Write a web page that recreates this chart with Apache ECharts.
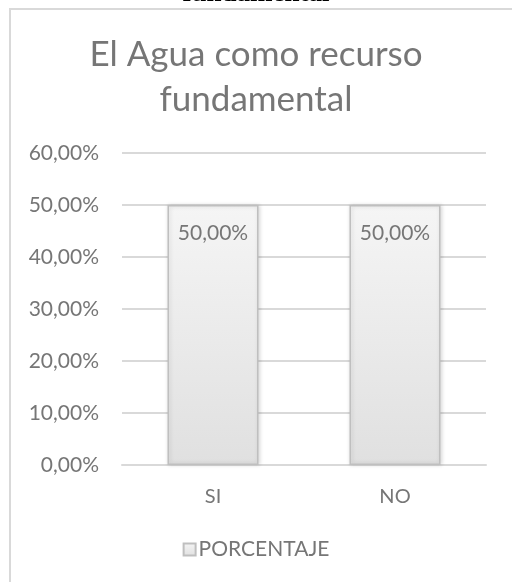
<!DOCTYPE html>
<html><head><meta charset="utf-8">
<script src="https://cdn.jsdelivr.net/npm/echarts@6/dist/echarts.min.js"></script>
<style>html,body{margin:0;padding:0;background:#fff}#c{width:512px;height:582px}</style>
</head><body><div id="c"></div>
<script>
const categories = ['SI', 'NO'];
const seriesName = 'PORCENTAJE';
const values = [0.5, 0.5];
const yTicks = [0, 0.1, 0.2, 0.3, 0.4, 0.5, 0.6];
const titleText = 'El Agua como recurso\nfundamental';
const cutText = 'fundamental';

const fmt = v => (v * 100).toFixed(2).replace('.', ',') + '%';
const FONT = 'Lato';
const chart = echarts.init(document.getElementById('c'), null, {renderer: 'canvas'});
chart.setOption({
  animation: false,
  backgroundColor: '#fff',
  title: {
    text: titleText, left: 'center', top: 27,
    textStyle: {fontFamily: FONT, fontSize: 35, fontWeight: 'normal', color: '#767676', lineHeight: 45}
  },
  graphic: [
    {type: 'rect', shape: {x: 10, y: 9, width: 620, height: 640}, style: {fill: 'none', stroke: '#d9d9d9', lineWidth: 2}, silent: true},
    {type: 'text', left: 'center', top: -19, style: {text: cutText, font: 'bold 27px "Liberation Serif"', fill: '#000'}}
  ],
  legend: {
    data: [seriesName], bottom: 17, left: 'center', itemWidth: 12, itemHeight: 12, itemGap: 4,
    icon: 'rect',
    textStyle: {fontFamily: FONT, fontSize: 21, color: '#767676', padding: [0, 0, 0, -2]}
  },
  grid: {left: 122, right: 26, top: 153, bottom: 117},
  xAxis: {
    type: 'category', data: categories,
    axisLine: {lineStyle: {color: '#d9d9d9', width: 2}},
    axisTick: {show: false},
    axisLabel: {fontFamily: FONT, fontSize: 20, color: '#767676', margin: 22}
  },
  yAxis: {
    type: 'value', min: 0, max: 0.6, interval: 0.1,
    axisLine: {show: false}, axisTick: {show: false},
    splitLine: {lineStyle: {color: '#d9d9d9', width: 2}},
    axisLabel: {fontFamily: FONT, fontSize: 21, color: '#767676', margin: 23, formatter: fmt}
  },
  series: [{
    name: seriesName, type: 'bar', data: values, barWidth: '50%',
    itemStyle: {
      color: new echarts.graphic.LinearGradient(0, 0, 0, 1, [{offset: 0, color: '#f5f5f5'}, {offset: 1, color: '#e0e0e0'}]),
      borderColor: '#bfbfbf', borderWidth: 1.5,
      shadowColor: 'rgba(0,0,0,0.15)', shadowBlur: 4, shadowOffsetX: 1
    },
    label: {show: true, position: 'insideTop', distance: 18, formatter: p => fmt(p.value),
      fontFamily: FONT, fontSize: 21, color: '#767676'}
  }]
});
</script></body></html>
